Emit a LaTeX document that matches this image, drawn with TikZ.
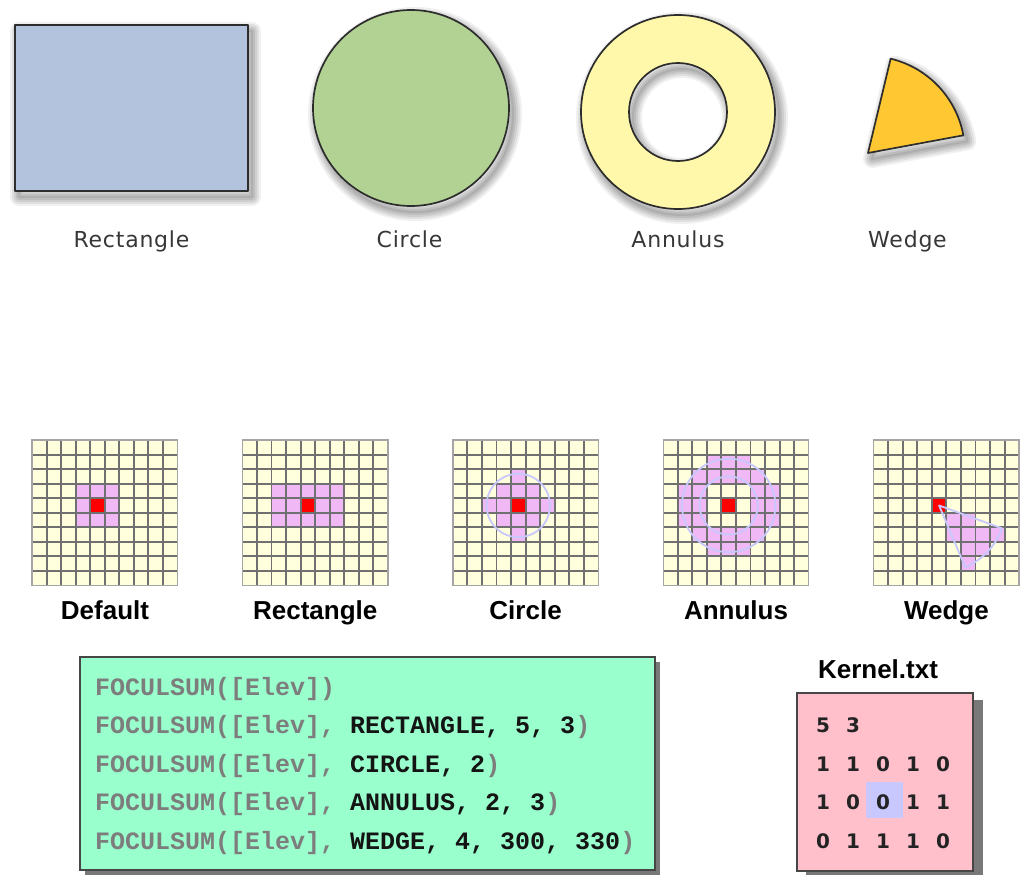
\documentclass[tikz,border=0pt]{standalone}
\usepackage{fontspec}
\setmainfont{DejaVu Sans}
\newfontfamily\labfont{Liberation Sans}
\newfontfamily\codefont{Liberation Mono}
\newfontfamily\toplabfont{DejaVu Sans}[LetterSpace=3.5]
\newfontfamily\kernfont{DejaVu Sans}

\definecolor{rectfill}{RGB}{179,195,222}
\definecolor{circfill}{RGB}{178,210,148}
\definecolor{annfill}{RGB}{255,247,170}
\definecolor{wedgefill}{RGB}{255,200,50}
\definecolor{edgecol}{RGB}{45,45,45}
\definecolor{cellfill}{RGB}{255,255,222}
\definecolor{gridline}{RGB}{112,112,112}
\definecolor{gridframe}{RGB}{165,165,165}
\definecolor{zonepink}{RGB}{240,185,245}
\definecolor{lav}{RGB}{200,200,255}
\definecolor{codebg}{RGB}{153,255,204}
\definecolor{codegray}{RGB}{125,125,125}
\definecolor{codeblack}{RGB}{20,20,20}
\definecolor{kernbg}{RGB}{255,192,203}
\definecolor{boxshadow}{RGB}{120,120,120}
\definecolor{boxedge}{RGB}{70,70,70}
\definecolor{labgray}{RGB}{55,55,55}
\definecolor{kerntext}{RGB}{35,35,35}

\newcommand\softshadow[2][]{%
  \foreach \w/\o in {18/0.06,14/0.07,10/0.075,6/0.08,2/0.08}{%
    \path[draw=black, draw opacity=\o,
          line width=\w pt, line join=round, shift={(4,6)}, #1] #2;}}

\newcommand\kgrid[3]{%
  \begin{scope}[shift={(#1,440)}]
    \fill[cellfill] (0,0) rectangle (145.5,145.5);
    \foreach \c/\r in {#2} \fill[zonepink] (\c*14.55,\r*14.55) rectangle ++(14.55,14.55);
    \fill[red] (4*14.55,4*14.55) rectangle ++(14.55,14.55);
    \foreach \i in {1,...,9}{%
      \draw[gridln] (\i*14.55,0) -- (\i*14.55,145.5);
      \draw[gridln] (0,\i*14.55) -- (145.5,\i*14.55);}
    \draw[gridframe, line width=1.4pt] (0,0) rectangle (145.5,145.5);
    #3
  \end{scope}}

\begin{document}
\begin{tikzpicture}[x=1pt, y=-1pt,
  shapeedge/.style={draw=edgecol, line width=1.7pt, line join=round},
  gridln/.style={draw=gridline, line width=1.9pt},
  zoneedge/.style={draw=lav, line width=1.8pt},
  toplab/.style={anchor=base, text=labgray, font=\toplabfont\fontsize{22}{26}\selectfont},
  botlab/.style={anchor=base, text=black, font=\labfont\bfseries\fontsize{26}{30}\selectfont},
  codeline/.style={anchor=base west, inner sep=0pt, text=codeblack, font=\codefont\bfseries\fontsize{25}{28}\selectfont},
  kdig/.style={anchor=base, inner sep=0pt, text=kerntext, font=\kernfont\bfseries\fontsize{20}{24}\selectfont},
  boxbody/.style={draw=boxedge, line width=1.5pt}]

\useasboundingbox (0,0) rectangle (1023,875);
\fill[white] (0,0) rectangle (1023,875);

% ---------- top shapes ----------
\softshadow{(15,25) rectangle (248,191)}
\draw[shapeedge, fill=rectfill] (15,25) rectangle (248,191);

\softshadow{(411,108) circle[radius=98]}
\draw[shapeedge, fill=circfill] (411,108) circle[radius=98];

\softshadow{(678,112) circle[radius=97] (678,112) circle[radius=49]}
\draw[shapeedge, fill=annfill, even odd rule] (678,112) circle[radius=97] (678,112) circle[radius=49];

\softshadow{(868,153) -- ++(-10.5:97) arc[start angle=-10.5, end angle=-76.5, radius=97] -- cycle}
\draw[shapeedge, fill=wedgefill] (868,153) -- ++(-10.5:97) arc[start angle=-10.5, end angle=-76.5, radius=97] -- cycle;

\node[toplab] (tRect) at (131.5,247) {Rectangle};
\node[toplab] (tCirc) at (409.5,247) {Circle};
\node[toplab] (tAnn) at (678,247) {Annulus};
\node[toplab] (tWedge) at (907.5,247) {Wedge};

% ---------- neighbourhood grids ----------
\kgrid{32}{3/3,4/3,5/3,3/4,5/4,3/5,4/5,5/5}{}
\kgrid{242.4}{2/3,3/3,4/3,5/3,6/3,2/4,3/4,5/4,6/4,2/5,3/5,4/5,5/5,6/5}{}
\kgrid{452.8}{4/2,3/3,4/3,5/3,2/4,3/4,5/4,6/4,3/5,4/5,5/5,4/6}{%
  \draw[zoneedge] (65.475,65.475) circle[radius=31.7];}
\kgrid{663.2}{3/1,4/1,5/1,2/2,3/2,4/2,5/2,6/2,1/3,2/3,6/3,7/3,1/4,2/4,6/4,7/4,1/5,2/5,6/5,7/5,2/6,3/6,4/6,5/6,6/6,3/7,4/7,5/7}{%
  \draw[zoneedge] (65.475,65.475) circle[radius=29.1];
  \draw[zoneedge] (65.475,65.475) circle[radius=46.7];}
\kgrid{873.6}{5/5,6/5,5/6,6/6,7/6,8/6,6/7,7/7,6/8}{%
  \draw[zoneedge, line join=round] (65.475,65.475) -- ++(20:67) arc[start angle=20, end angle=67, radius=67] -- cycle;}

\node[botlab] (bDef) at (105,619) {Default};
\node[botlab] (bRect) at (315.2,619) {Rectangle};
\node[botlab] (bCirc) at (525.6,619) {Circle};
\node[botlab] (bAnn) at (736,619) {Annulus};
\node[botlab] (bWedge) at (946.4,619) {Wedge};

% ---------- code box ----------
\fill[boxshadow] (85,662) rectangle (660,875);
\draw[boxbody, fill=codebg] (80,657) rectangle (655,870);
\node[codeline] (c1) at (95,695) {{\color{codegray}FOCULSUM([Elev])}};
\node[codeline] (c2) at (95,733.5) {{\color{codegray}FOCULSUM([Elev], }RECTANGLE, 5, 3{\color{codegray})}};
\node[codeline] (c3) at (95,772) {{\color{codegray}FOCULSUM([Elev], }CIRCLE, 2{\color{codegray})}};
\node[codeline] (c4) at (95,810.5) {{\color{codegray}FOCULSUM([Elev], }ANNULUS, 2, 3{\color{codegray})}};
\node[codeline] (c5) at (95,849) {{\color{codegray}FOCULSUM([Elev], }WEDGE, 4, 300, 330{\color{codegray})}};

% ---------- kernel file ----------
\node[botlab] (kTitle) at (878,678) {Kernel.txt};
\fill[boxshadow] (806,700) rectangle (983,880);
\draw[boxbody, fill=kernbg] (797,693) rectangle (973,871);
\fill[lav] (866,782) rectangle (903,818);
\foreach \d [count=\i] in {5,3} \node[kdig] (k1-\i) at ({793+30*\i},732) {\d};
\foreach \d [count=\i] in {1,1,0,1,0} \node[kdig] (k2-\i) at ({793+30*\i},771) {\d};
\foreach \d [count=\i] in {1,0,0,1,1} \node[kdig] (k3-\i) at ({793+30*\i},809) {\d};
\foreach \d [count=\i] in {0,1,1,1,0} \node[kdig] (k4-\i) at ({793+30*\i},848) {\d};

\end{tikzpicture}
\end{document}
